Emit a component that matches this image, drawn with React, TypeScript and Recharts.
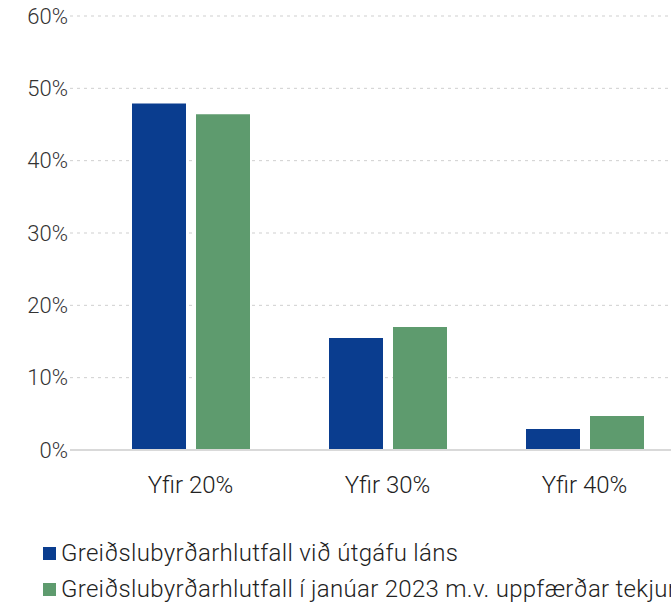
import { Bar, BarChart, CartesianGrid, Legend, XAxis, YAxis } from 'recharts'

const categories = ['Yfir 20%', 'Yfir 30%', 'Yfir 40%']
const vidUtgafu = [47.9, 15.5, 2.9]
const januar2023 = [46.4, 17.0, 4.7]
const yTicks = [0, 10, 20, 30, 40, 50, 60]

const seriesNames = [
	'Greiðslubyrðarhlutfall við útgáfu láns',
	'Greiðslubyrðarhlutfall í janúar 2023 m.v. uppfærðar tekjur',
]

const data = categories.map((name, i) => ({
	name,
	a: vidUtgafu[i],
	b: januar2023[i],
}))

const font = 'Roboto, "Open Sans", sans-serif'

function LegendBox({ payload }: any) {
	return (
		<div
			style={{
				fontFamily: font,
				fontSize: 24,
				fontWeight: 300,
				letterSpacing: 0.3,
				color: '#222',
				whiteSpace: 'nowrap',
			}}
		>
			{(payload || []).map((p: any) => (
				<div key={p.value} style={{ display: 'flex', alignItems: 'center', height: 36 }}>
					<span
						style={{
							display: 'inline-block',
							width: 13,
							height: 13,
							background: p.color,
							marginRight: 5,
						}}
					/>
					{p.value}
				</div>
			))}
		</div>
	)
}

export default function App() {
	return (
		<div
			style={{
				position: 'fixed',
				left: 0,
				top: 0,
				width: 671,
				height: 607,
				overflow: 'hidden',
				background: '#fff',
			}}
		>
			<BarChart
				width={683}
				height={607}
				data={data}
				margin={{ top: 16, right: 0, bottom: 25, left: 0 }}
				barSize={54}
				barGap={10}
			>
				<CartesianGrid vertical={false} stroke='#cfcfcf' strokeDasharray='3 4' />
				<XAxis
					dataKey='name'
					padding={{ left: 22, right: 0 }}
					tickLine={false}
					axisLine={{ stroke: '#d9d9d9', strokeWidth: 2 }}
					tickSize={0}
					tickMargin={26}
					height={60}
					tick={{ fill: '#222', fontSize: 24, fontWeight: 300, fontFamily: font }}
				/>
				<YAxis
					width={70}
					domain={[0, 60]}
					ticks={yTicks}
					tickFormatter={(v: number) => `${v}%`}
					tickLine={false}
					axisLine={false}
					tickSize={0}
					tickMargin={2}
					tick={{ fill: '#333', fontSize: 22, fontWeight: 300, fontFamily: font }}
				/>
				<Bar dataKey='a' name={seriesNames[0]} fill='#0a3d8f' isAnimationActive={false} />
				<Bar dataKey='b' name={seriesNames[1]} fill='#5e9b6e' isAnimationActive={false} />
				<Legend
					content={<LegendBox />}
					wrapperStyle={{ position: 'absolute', left: 43, top: 535, width: 700 }}
				/>
			</BarChart>
		</div>
	)
}
